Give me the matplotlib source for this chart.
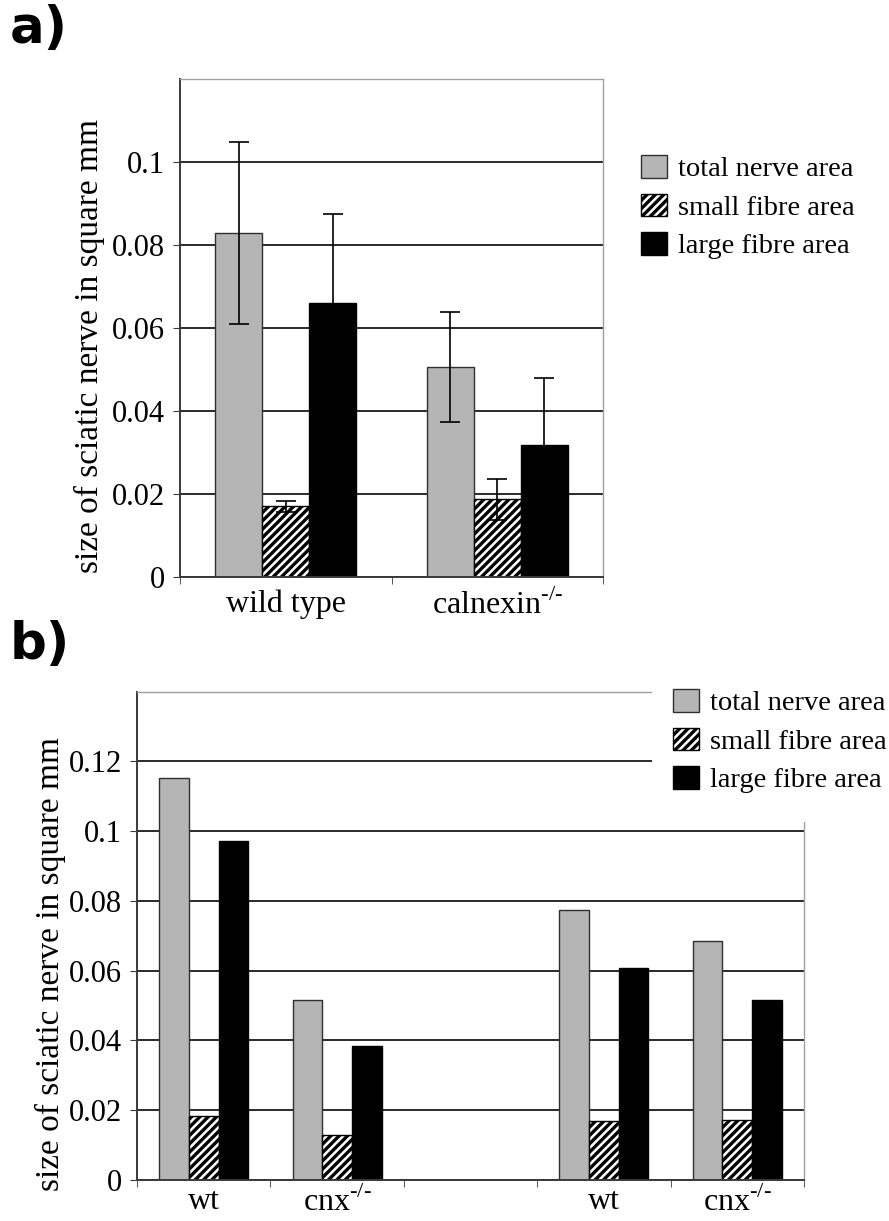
import matplotlib
matplotlib.use("Agg")
import matplotlib.pyplot as plt
from matplotlib.patches import Rectangle
import numpy as np

plt.rcParams['font.family'] = ['Liberation Serif', 'DejaVu Serif']
plt.rcParams['mathtext.fontset'] = 'custom'
plt.rcParams['mathtext.rm'] = 'Liberation Serif'
plt.rcParams['hatch.linewidth'] = 2.4

# panel a data
groups_a = ['wild type', 'calnexin$^{\\mathregular{\u2010/\u2010}}$']
total_a = [0.083, 0.0507]
total_err_a = [0.022, 0.0132]
small_a = [0.0171, 0.0188]
small_err_a = [0.0014, 0.005]
large_a = [0.0662, 0.0318]
large_err_a = [0.0214, 0.0162]

# panel b data
groups_b = ['wt', 'cnx$^{\\mathregular{\u2010/\u2010}}$', '', 'wt', 'cnx$^{\\mathregular{\u2010/\u2010}}$']
total_b = [0.1153, 0.0515, 0, 0.0775, 0.0685]
small_b = [0.0183, 0.0129, 0, 0.0168, 0.0173]
large_b = [0.0972, 0.0384, 0, 0.0608, 0.0515]

series_names = ['total nerve area', 'small fibre area', 'large fibre area']

GRAY = '#b5b5b5'
W = 1 / 4.5

fig = plt.figure(figsize=(8.89, 12.21), dpi=100)


def style_axes(ax, ymax, ytop, ncat, xpad):
    ax.set_xlim(-0.5, ncat - 0.5)
    ax.set_ylim(0, ytop)
    ax.set_yticks(np.arange(0, ymax + 1e-9, 0.02))
    ax.set_yticklabels(['0'] + ['%g' % v for v in np.arange(0.02, ymax + 1e-9, 0.02)])
    ax.yaxis.grid(True, color='#2a2a2a', lw=1.4)
    ax.set_axisbelow(True)
    for s in ['left', 'bottom']:
        ax.spines[s].set_color('#3a3a3a')
        ax.spines[s].set_linewidth(1.4)
    for s in ['top', 'right']:
        ax.spines[s].set_color('#a0a0a0')
        ax.spines[s].set_linewidth(1.0)
    ax.set_xticks(np.arange(ncat))
    ax.set_xticks(np.arange(ncat + 1) - 0.5, minor=True)
    ax.tick_params(axis='x', which='major', length=0, pad=xpad, labelsize=23)
    ax.tick_params(axis='x', which='minor', length=5, direction='out', color='#3a3a3a')
    ax.tick_params(axis='y', length=5, direction='out', color='#3a3a3a', labelsize=22, pad=6)


def draw_bars(ax, x, total, small, large, errs=None):
    ax.bar(x - W, total, W, color=GRAY, edgecolor='#303030', lw=1, label=series_names[0])
    ax.bar(x, small, W, color='white', edgecolor='black', hatch='////', lw=1, label=series_names[1])
    ax.bar(x + W, large, W, color='black', edgecolor='black', lw=1, label=series_names[2])
    if errs is not None:
        for off, vals, e in zip([-W, 0, W], [total, small, large], errs):
            ax.errorbar(x + off, vals, yerr=e, fmt='none', ecolor='black',
                        elinewidth=1.2, capsize=7, capthick=1.2, zorder=4)


# ---- panel a ----
ax_a = fig.add_axes([180 / 889, 1 - 577.3 / 1221, 423 / 889, 498 / 1221])
xa = np.arange(len(groups_a))
draw_bars(ax_a, xa, total_a, small_a, large_a,
          errs=[total_err_a, small_err_a, large_err_a])
style_axes(ax_a, 0.1, 0.12, len(groups_a), 9)
ax_a.set_xticklabels(groups_a)
ax_a.set_ylabel('size of sciatic nerve in square mm', fontsize=24)
ax_a.yaxis.set_label_coords(-0.215, 0.464)
ax_a.yaxis.label.set_va('center')
ax_a.legend(loc='upper left', bbox_to_anchor=(641 / 889, 1 - 155 / 1221),
            bbox_transform=fig.transFigure, frameon=False, fontsize=20.5,
            handlelength=0.9, handleheight=0.85, handletextpad=0.4,
            labelspacing=0.4, borderpad=0, borderaxespad=0)

# ---- panel b ----
ax_b = fig.add_axes([137 / 889, 1 - 1180 / 1221, 667 / 889, 488.3 / 1221])
xb = np.arange(len(groups_b))
draw_bars(ax_b, xb, total_b, small_b, large_b)
style_axes(ax_b, 0.12, 0.14, len(groups_b), 5)
ax_b.set_xticklabels(groups_b)
ax_b.set_ylabel('size of sciatic nerve in square mm', fontsize=24)
ax_b.yaxis.set_label_coords(-0.13, 0.442)
ax_b.yaxis.label.set_va('center')
cover = Rectangle((652 / 889, 1 - 822 / 1221), 1 - 652 / 889, 150 / 1221,
                  transform=fig.transFigure, facecolor='white', edgecolor='none',
                  clip_on=False, zorder=4)
ax_b.add_patch(cover)
leg_b = ax_b.legend(loc='upper left', bbox_to_anchor=(673 / 889, 1 - 689 / 1221),
                    bbox_transform=fig.transFigure, frameon=False, fontsize=20.5,
                    handlelength=0.9, handleheight=0.85, handletextpad=0.4,
                    labelspacing=0.4, borderpad=0, borderaxespad=0)
leg_b.set_zorder(5)

fig.text(10 / 889, 1 - 4 / 1221, 'a)', family='DejaVu Sans', weight='bold',
         fontsize=37, ha='left', va='top')
fig.text(10 / 889, 1 - 620 / 1221, 'b)', family='DejaVu Sans', weight='bold',
         fontsize=37, ha='left', va='top')

fig.savefig('out.png', dpi=100)
